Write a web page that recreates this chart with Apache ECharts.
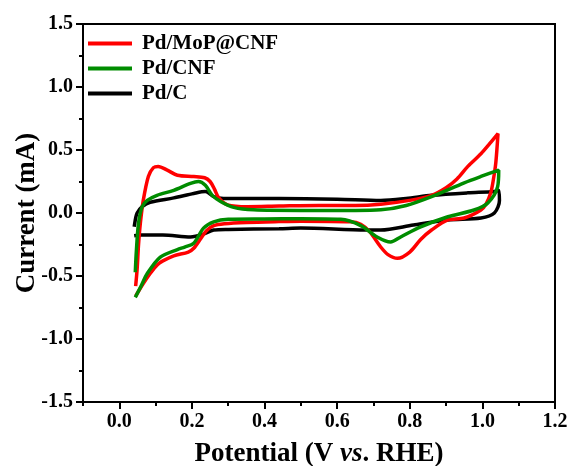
<!DOCTYPE html>
<html><head><meta charset="utf-8">
<script src="https://cdn.jsdelivr.net/npm/echarts@6/dist/echarts.min.js"></script>
<style>html,body{margin:0;padding:0;background:#fff}#c{width:570px;height:466px}</style>
</head><body><div id="c"></div>
<script>
// Pd/MoP@CNF
var redPotential = [0.045,0.049,0.053,0.058,0.066,0.08,0.094,0.107,0.132,0.16,0.205,0.235,0.25,0.262,0.274,0.298,0.353,0.44,0.55,0.65,0.72,0.80,0.86,0.90,0.93,0.96,0.996,1.02,1.043,1.037,1.03,1.023,1.01,0.996,0.95,0.905,0.86,0.83,0.80,0.766,0.74,0.72,0.69,0.665,0.637,0.5,0.44,0.35,0.29,0.26,0.24,0.225,0.205,0.19,0.15,0.12,0.105,0.085,0.066,0.045];
var redCurrent   = [-0.58,-0.45,-0.25,-0.08,0.10,0.29,0.36,0.37,0.34,0.30,0.29,0.28,0.25,0.19,0.12,0.065,0.05,0.055,0.06,0.06,0.07,0.10,0.14,0.20,0.27,0.37,0.47,0.55,0.63,0.40,0.26,0.16,0.07,0.024,-0.04,-0.055,-0.135,-0.21,-0.31,-0.36,-0.33,-0.27,-0.15,-0.09,-0.07,-0.065,-0.068,-0.075,-0.085,-0.10,-0.14,-0.2,-0.28,-0.31,-0.34,-0.38,-0.41,-0.48,-0.56,-0.66];
// Pd/CNF
var greenPotential = [0.044,0.047,0.053,0.063,0.077,0.104,0.15,0.196,0.218,0.237,0.256,0.28,0.315,0.37,0.5,0.65,0.72,0.79,0.86,0.95,0.996,1.045,1.042,1.015,0.977,0.905,0.83,0.775,0.747,0.71,0.665,0.61,0.5,0.4,0.3,0.26,0.232,0.205,0.18,0.16,0.113,0.077,0.06,0.044];
var greenCurrent   = [-0.47,-0.3,-0.08,0.05,0.10,0.14,0.18,0.235,0.25,0.22,0.14,0.09,0.045,0.025,0.02,0.02,0.025,0.06,0.13,0.24,0.29,0.34,0.21,0.08,0.024,-0.03,-0.11,-0.19,-0.23,-0.19,-0.10,-0.05,-0.045,-0.047,-0.05,-0.07,-0.12,-0.24,-0.27,-0.29,-0.35,-0.48,-0.58,-0.67];
// Pd/C
var blackPotential = [0.041,0.045,0.049,0.063,0.085,0.15,0.205,0.237,0.26,0.287,0.44,0.6,0.72,0.79,0.86,0.96,1.033,1.045,1.047,1.033,0.996,0.905,0.81,0.72,0.68,0.5,0.44,0.3,0.26,0.23,0.196,0.12,0.058,0.041];
var blackCurrent   = [-0.11,-0.04,0.0,0.05,0.085,0.12,0.155,0.17,0.13,0.115,0.115,0.11,0.10,0.115,0.14,0.16,0.17,0.18,0.1,0.0,-0.04,-0.055,-0.095,-0.135,-0.135,-0.12,-0.125,-0.13,-0.135,-0.17,-0.19,-0.175,-0.175,-0.18];

var seriesNames = ['Pd/MoP@CNF','Pd/CNF','Pd/C'];
var xMajorTicks = [0.0,0.2,0.4,0.6,0.8,1.0,1.2];

function zip(a,b){var r=[];for(var i=0;i<a.length;i++)r.push([a[i],b[i]]);return r;}

var FONT = "'Liberation Serif','Times New Roman',serif";
var chart = echarts.init(document.getElementById('c'), null, {renderer:'canvas'});
chart.setOption({
  animation:false,
  grid:{left:83,right:15,top:24,bottom:64,show:true,borderColor:'#000',borderWidth:2,backgroundColor:'transparent',
        containLabel:false,outerBoundsMode:'none'},
  legend:{
    left:88, top:33, padding:0, orient:'vertical', itemGap:4, itemWidth:44, itemHeight:4, icon:'rect',
    textStyle:{fontFamily:FONT,fontWeight:'bold',fontSize:21,color:'#000',padding:[0,0,0,5]},
    data:seriesNames
  },
  xAxis:[{
    type:'value', min:-0.1, max:1.2, interval:0.1, position:'bottom',
    axisLine:{show:true,onZero:false,lineStyle:{color:'#000',width:2}},
    axisTick:{show:true,inside:false,length:4,lineStyle:{color:'#000',width:2}},
    axisLabel:{show:false}, splitLine:{show:false}
  },{
    type:'value', min:-0.1, max:1.2, position:'bottom',
    axisLine:{show:false,onZero:false},
    axisTick:{show:true,inside:false,length:7,customValues:xMajorTicks,lineStyle:{color:'#000',width:2}},
    axisLabel:{show:true,customValues:xMajorTicks,margin:10,fontFamily:FONT,fontWeight:'bold',fontSize:20,color:'#000',
      formatter:function(v){return v.toFixed(1);}},
    splitLine:{show:false},
    name:'{b|Potential (V }{i|vs}{b|. RHE)}', nameLocation:'middle', nameGap:39, nameMoveOverlap:false,
    nameTextStyle:{rich:{
      b:{fontFamily:FONT,fontWeight:'bold',fontSize:27,color:'#000'},
      i:{fontFamily:FONT,fontWeight:'bold',fontStyle:'italic',fontSize:27,color:'#000'}}}
  }],
  yAxis:{
    type:'value', min:-1.5, max:1.5, interval:0.5,
    axisLine:{show:true,onZero:false,lineStyle:{color:'#000',width:2}},
    axisTick:{show:true,inside:false,length:7,lineStyle:{color:'#000',width:2}},
    minorTick:{show:true,splitNumber:2,length:4,lineStyle:{color:'#000',width:2}},
    axisLabel:{margin:10,fontFamily:FONT,fontWeight:'bold',fontSize:20,color:'#000',formatter:function(v){return v.toFixed(1);}},
    splitLine:{show:false},
    name:'Current (mA)', nameLocation:'middle', nameGap:42, nameMoveOverlap:false,
    nameTextStyle:{fontFamily:FONT,fontWeight:'bold',fontSize:27,color:'#000'}
  },
  series:[
    {name:seriesNames[0],type:'line',data:zip(redPotential,redCurrent),showSymbol:false,symbol:'none',smooth:0.3,z:3,
     lineStyle:{color:'#ff0000',width:3.5},itemStyle:{color:'#ff0000'}},
    {name:seriesNames[1],type:'line',data:zip(greenPotential,greenCurrent),showSymbol:false,symbol:'none',smooth:0.3,z:4,
     lineStyle:{color:'#008c00',width:3.5},itemStyle:{color:'#008c00'}},
    {name:seriesNames[2],type:'line',data:zip(blackPotential,blackCurrent),showSymbol:false,symbol:'none',smooth:0.3,z:2,
     lineStyle:{color:'#000000',width:3.5},itemStyle:{color:'#000000'}}
  ]
});
</script></body></html>
